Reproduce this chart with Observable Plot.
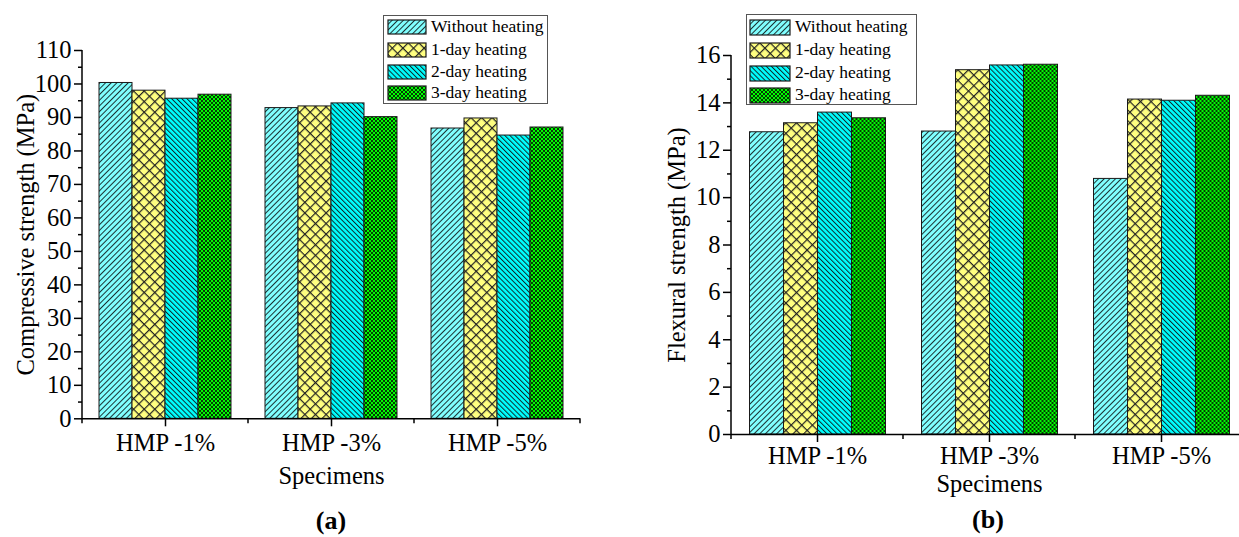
<!DOCTYPE html>
<html><head><meta charset="utf-8">
<script src="https://cdn.jsdelivr.net/npm/d3@7"></script>
<script src="https://cdn.jsdelivr.net/npm/@observablehq/plot@0.6"></script>
<style>
html,body{margin:0;padding:0;background:#fff;}
body{width:1239px;height:537px;overflow:hidden;position:relative;font-family:"Liberation Serif","Times New Roman",serif;color:#000;}
.chart{position:absolute;top:0;}
.chart svg{max-width:none !important;}
.legend{position:absolute;border:1px solid #555;background:#fff;box-sizing:border-box;}
.row{position:absolute;left:0;height:0;font-size:17.5px;white-space:nowrap;}
.row svg{position:absolute;}
.row span{position:absolute;top:0;transform:translateY(-52%);line-height:1;}
.cap{position:absolute;font-weight:bold;font-size:26px;transform:translate(-50%,-50%);line-height:1;}
</style></head><body>
<svg width="0" height="0" style="position:absolute">
  <defs>
    <pattern id="pWo" patternUnits="userSpaceOnUse" width="4" height="8" patternTransform="rotate(45)">
      <rect width="4" height="8" fill="#80ffff"/>
      <line x1="0.5" y1="0" x2="0.5" y2="8" stroke="#1c3434" stroke-width="1"/>
    </pattern>
    <pattern id="p1d" patternUnits="userSpaceOnUse" width="7.5" height="7.5" patternTransform="rotate(45)">
      <rect width="7.5" height="7.5" fill="#ffff80"/>
      <line x1="0.6" y1="0" x2="0.6" y2="7.5" stroke="#222" stroke-width="1.2"/>
      <line x1="0" y1="0.6" x2="7.5" y2="0.6" stroke="#222" stroke-width="1.2"/>
    </pattern>
    <pattern id="p2d" patternUnits="userSpaceOnUse" width="3.6" height="8" patternTransform="rotate(-45)">
      <rect width="3.6" height="8" fill="#00ffff"/>
      <line x1="0.5" y1="0" x2="0.5" y2="8" stroke="#0d2a2a" stroke-width="1"/>
    </pattern>
    <pattern id="p3d" patternUnits="userSpaceOnUse" width="4" height="4">
      <rect width="4" height="4" fill="#00ff00"/>
      <rect x="0" y="0" width="2" height="2" fill="#053805"/>
      <rect x="2" y="2" width="2" height="2" fill="#053805"/>
    </pattern>
  </defs>
</svg>
<div id="a" class="chart" style="left:0"></div>
<div id="b" class="chart" style="left:620px"></div>
<div id="legA" class="legend" style="left:383px;top:15px;width:165px;height:89px"></div>
<div id="legB" class="legend" style="left:746px;top:14px;width:171px;height:91px"></div>
<div class="cap" style="left:331px;top:521px">(a)</div>
<div class="cap" style="left:988px;top:520px">(b)</div>
<script>
// ---- data ----
const categories = ["HMP -1%", "HMP -3%", "HMP -5%"];
const series = ["Without heating", "1-day heating", "2-day heating", "3-day heating"];
const compressive = [
  [100.3, 98.0, 95.6, 96.8],
  [92.8, 93.3, 94.2, 90.1],
  [86.7, 89.7, 84.6, 87.0]
];
const flexural = [
  [12.76, 13.14, 13.59, 13.35],
  [12.79, 15.38, 15.58, 15.61],
  [10.79, 14.14, 14.09, 14.30]
];
const ticksA = [0, 10, 20, 30, 40, 50, 60, 70, 80, 90, 100, 110];
const minorA = [5, 15, 25, 35, 45, 55, 65, 75, 85, 95, 105];
const ticksB = [0, 2, 4, 6, 8, 10, 12, 14, 16];
const minorB = [1, 3, 5, 7, 9, 11, 13, 15];
const yLabelA = "Compressive strength (MPa)";
const yLabelB = "Flexural strength (MPa)";
const xLabel = "Specimens";
const patternIds = ["pWo", "p1d", "p2d", "p3d"];

function makeChart(el, values, cfg) {
  const rows = [];
  categories.forEach((c, i) => series.forEach((s, j) => rows.push({cat: c, series: s, value: values[i][j]})));
  const plot = Plot.plot({
    width: cfg.width, height: 537,
    marginLeft: cfg.ml, marginRight: cfg.mr, marginTop: cfg.mt, marginBottom: cfg.mb,
    style: {fontFamily: "Liberation Serif, Times New Roman, serif", fontSize: "24.5px", color: "#000", background: "transparent", overflow: "visible", maxWidth: "none"},
    fx: {domain: categories, padding: 0},
    x: {domain: series, axis: null, paddingInner: 0, paddingOuter: cfg.po},
    y: {domain: cfg.domain},
    color: {domain: series, range: patternIds.map(id => `url(#${id})`)},
    marks: [
      Plot.barY(rows, {fx: "cat", x: "series", y: "value", fill: "series", stroke: "#1a1a1a", strokeWidth: 1}),
      Plot.ruleY([0], {stroke: "#000", strokeWidth: 1.5}),
      Plot.axisY(cfg.ticks, {tickSize: 8, tickPadding: 3, fontSize: 24.5, strokeWidth: 1.5,
        label: cfg.ylabel, labelAnchor: "center", labelArrow: "none", labelOffset: cfg.lo}),
      Plot.axisY(cfg.minor, {tickSize: 4, strokeWidth: 1.5, tickFormat: () => "", label: null}),
      Plot.axisFx({anchor: "bottom", tickSize: 8, tickPadding: cfg.tp, fontSize: 24.5, strokeWidth: 1.5,
        label: xLabel, labelAnchor: "center", labelArrow: "none", labelOffset: cfg.xlo})
    ]
  });
  const y = plot.scale("y"), fx = plot.scale("fx");
  const x0 = fx.apply(categories[0]);
  const y0 = y.apply(0);
  const g = d3.select(plot).append("g").attr("stroke", "#000").attr("stroke-width", 1.5);
  g.append("line").attr("x1", x0).attr("x2", x0).attr("y1", y.apply(cfg.domain[1])).attr("y2", y0);
  const bounds = categories.map(c => fx.apply(c));
  bounds.push(fx.apply(categories[categories.length - 1]) + fx.bandwidth);
  bounds.forEach(b => g.append("line").attr("x1", b).attr("x2", b).attr("y1", y0).attr("y2", y0 + 5));
  document.getElementById(el).appendChild(plot);
}

makeChart("a", compressive, {width: 600, ml: 81, mr: 19.7, mt: 50, mb: 537 - 418.3, po: 0.5,
  domain: [0, 110], ticks: ticksA, minor: minorA, ylabel: yLabelA, lo: 66, tp: 7, xlo: 65});
makeChart("b", flexural, {width: 640, ml: 109.5, mr: 12.4, mt: 55, mb: 537 - 434, po: 0.47,
  domain: [0, 16], ticks: ticksB, minor: minorB, ylabel: yLabelB, lo: 64, tp: 4, xlo: 57});

function makeLegend(el, cfg) {
  const box = document.getElementById(el);
  series.forEach((s, i) => {
    const row = document.createElement("div");
    row.className = "row";
    row.style.top = cfg.rows[i] + "px";
    const sw = d3.create("svg").attr("width", cfg.sw + 2).attr("height", cfg.sh + 2)
      .style("left", cfg.sx + "px").style("top", (-(cfg.sh + 2) / 2) + "px");
    sw.append("rect").attr("x", 1).attr("y", 1).attr("width", cfg.sw).attr("height", cfg.sh)
      .attr("fill", `url(#${patternIds[i]})`).attr("stroke", "#1a1a1a").attr("stroke-width", 1.2);
    row.appendChild(sw.node());
    const t = document.createElement("span");
    t.textContent = s;
    t.style.left = cfg.tx + "px";
    row.appendChild(t);
    box.appendChild(row);
  });
}
makeLegend("legA", {rows: [11, 33.7, 55.7, 77], sx: 3, sw: 38, sh: 14, tx: 47});
makeLegend("legB", {rows: [12, 35, 58, 80], sx: 2, sw: 40, sh: 15, tx: 48});
</script>
</body></html>
